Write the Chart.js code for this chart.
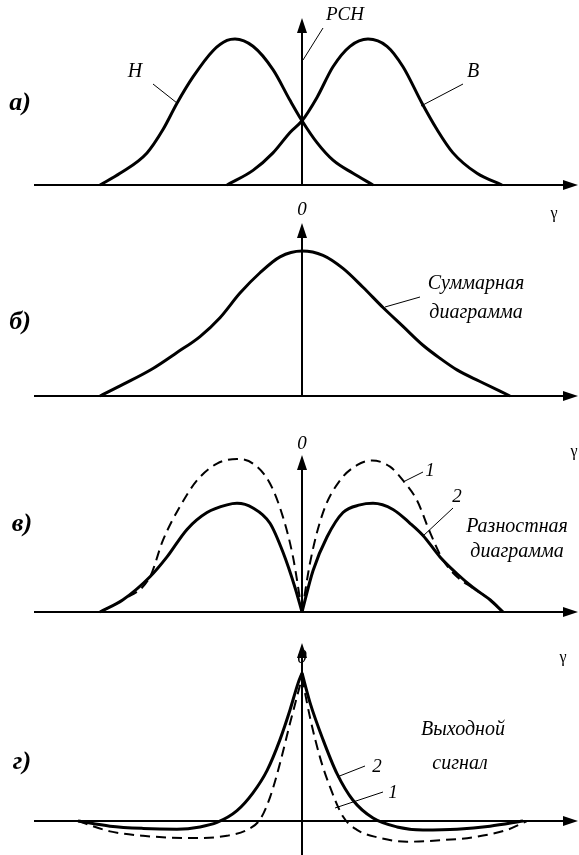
<!DOCTYPE html>
<html>
<head>
<meta charset="utf-8">
<script src="https://cdn.jsdelivr.net/npm/chart.js@4"></script>
<style>
  html, body { margin: 0; padding: 0; background: #fff; }
  #wrap { position: relative; width: 579px; height: 855px; overflow: hidden; }
  canvas { position: absolute; left: 0; top: 0; }
</style>
</head>
<body>
<div id="wrap">
  <canvas id="pa" width="579" height="855"></canvas>
  <canvas id="pb" width="579" height="855"></canvas>
  <canvas id="pv" width="579" height="855"></canvas>
  <canvas id="pg" width="579" height="855"></canvas>
</div>
<script>
// а) диаграммы Н и В
const xH = [-2.02, -1.82, -1.55, -1.39, -1.25, -1.09, -0.89, -0.75, -0.67, -0.49, -0.29, -0.12, 0, 0.15, 0.31, 0.51, 0.71];
const yH = [0, 0.08, 0.22, 0.38, 0.56, 0.74, 0.92, 0.99, 1.0, 0.95, 0.79, 0.58, 0.44, 0.29, 0.17, 0.08, 0];
const xB = [-0.75, -0.49, -0.29, -0.12, 0, 0.15, 0.31, 0.48, 0.66, 0.85, 1.01, 1.20, 1.35, 1.51, 1.75, 2.0];
const yB = [0, 0.10, 0.22, 0.36, 0.44, 0.60, 0.81, 0.95, 1.0, 0.95, 0.81, 0.56, 0.38, 0.22, 0.08, 0];

// б) суммарная
const xSum = [-2.02, -1.79, -1.49, -1.25, -1.02, -0.82, -0.62, -0.42, -0.22, 0, 0.21, 0.41, 0.61, 0.81, 1.01, 1.21, 1.38, 1.55, 1.78, 2.08];
const ySum = [0, 0.08, 0.19, 0.30, 0.41, 0.54, 0.71, 0.85, 0.96, 1.0, 0.97, 0.88, 0.75, 0.61, 0.48, 0.35, 0.26, 0.18, 0.10, 0];

// в) разностная: 1 - пунктир, 2 - сплошная
const xDiff1 = [-2.02, -1.79, -1.52, -1.39, -1.22, -1.05, -0.85, -0.65, -0.49, -0.32, -0.19, -0.09, 0,
                0.08, 0.21, 0.38, 0.55, 0.70, 0.88, 1.01, 1.15, 1.28, 1.41, 1.55, 1.70, 1.88, 2.01];
const yDiff1 = [0, 0.08, 0.23, 0.47, 0.69, 0.86, 0.97, 1.0, 0.97, 0.84, 0.62, 0.36, 0,
                0.32, 0.65, 0.86, 0.96, 0.99, 0.95, 0.86, 0.73, 0.52, 0.34, 0.23, 0.16, 0.08, 0];
const xDiff2 = [-2.02, -1.79, -1.52, -1.35, -1.15, -0.95, -0.75, -0.65, -0.49, -0.32, -0.19, -0.07, 0,
                0.11, 0.25, 0.41, 0.58, 0.71, 0.91, 1.08, 1.21, 1.38, 1.55, 1.71, 1.88, 2.01];
const yDiff2 = [0, 0.08, 0.23, 0.36, 0.54, 0.65, 0.70, 0.71, 0.68, 0.58, 0.39, 0.16, 0,
                0.27, 0.49, 0.65, 0.70, 0.71, 0.67, 0.58, 0.50, 0.36, 0.25, 0.16, 0.08, 0];

// г) выходной сигнал
const xOut1 = [-2.24, -1.92, -1.59, -1.09, -0.75, -0.55, -0.42, -0.32, -0.22, -0.12, -0.05, 0,
               0.08, 0.18, 0.28, 0.41, 0.55, 0.75, 1.05, 1.38, 1.71, 2.05, 2.25];
const yOut1 = [0, -0.07, -0.10, -0.115, -0.10, -0.06, 0.01, 0.16, 0.39, 0.66, 0.84, 0.97,
               0.70, 0.43, 0.23, 0.03, -0.06, -0.11, -0.14, -0.13, -0.11, -0.06, 0];
const xOut2 = [-2.24, -1.92, -1.59, -1.25, -1.02, -0.85, -0.65, -0.49, -0.35, -0.22, -0.12, -0.04, 0,
               0.08, 0.21, 0.35, 0.51, 0.71, 0.95, 1.21, 1.55, 1.88, 2.21];
const yOut2 = [0, -0.035, -0.05, -0.055, -0.04, -0.01, 0.07, 0.19, 0.34, 0.55, 0.75, 0.93, 1.0,
               0.80, 0.55, 0.32, 0.14, 0.02, -0.04, -0.06, -0.055, -0.035, 0];

const SERIF = '"Liberation Serif", "Times New Roman", serif';

function pts(xs, ys) {
  return xs.map((x, i) => ({ x: x, y: ys[i] }));
}
// делим кривую в нуле, чтобы сохранить излом
function half(xs, ys, side) {
  return pts(xs, ys).filter(p => side < 0 ? p.x <= 0 : p.x >= 0);
}

function arrow(ctx, x, y, dx, dy) {
  const len = 15, w = 5;
  const px = -dy, py = dx;
  ctx.beginPath();
  ctx.moveTo(x, y);
  ctx.lineTo(x - dx * len + px * w, y - dy * len + py * w);
  ctx.lineTo(x - dx * len - px * w, y - dy * len - py * w);
  ctx.closePath();
  ctx.fill();
}

const sketch = {
  id: 'sketch',
  afterDatasetsDraw(chart, args, opts) {
    const ctx = chart.ctx;
    const xs = chart.scales.x, ys = chart.scales.y;
    const area = chart.chartArea;
    const y0 = ys.getPixelForValue(0);
    const x0 = xs.getPixelForValue(0);
    ctx.save();
    ctx.strokeStyle = '#000';
    ctx.fillStyle = '#000';
    ctx.lineWidth = 2;
    // ось гамма
    ctx.beginPath();
    ctx.moveTo(area.left, y0);
    ctx.lineTo(area.right - 10, y0);
    ctx.stroke();
    arrow(ctx, area.right, y0, 1, 0);
    // вертикальная ось
    ctx.beginPath();
    ctx.moveTo(x0, opts.vBottom);
    ctx.lineTo(x0, opts.vTop + 10);
    ctx.stroke();
    arrow(ctx, x0, opts.vTop, 0, -1);
    // выноски
    ctx.lineWidth = 1;
    (opts.leaders || []).forEach(l => {
      ctx.beginPath();
      ctx.moveTo(l[0], l[1]);
      ctx.lineTo(l[2], l[3]);
      ctx.stroke();
    });
    ctx.textAlign = 'center';
    ctx.textBaseline = 'middle';
    (opts.labels || []).forEach(t => {
      ctx.font = t.font;
      ctx.fillText(t.text, t.x, t.y);
    });
    ctx.restore();
  }
};

function solid(data) {
  return { data, borderColor: '#000', borderWidth: 3, cubicInterpolationMode: 'monotone', pointRadius: 0, fill: false };
}
function dashed(data) {
  return { data, borderColor: '#000', borderWidth: 2, borderDash: [10, 6], cubicInterpolationMode: 'monotone', pointRadius: 0, fill: false };
}

function panel(id, band, datasets, sk) {
  // band: верх и низ области в пикселях, положение нуля и масштаб единицы
  const yMax = (band.base - band.top) / band.unit;
  const yMin = (band.base - band.bottom) / band.unit;
  new Chart(document.getElementById(id), {
    type: 'line',
    data: { datasets },
    options: {
      responsive: false,
      animation: false,
      layout: { padding: { left: 34, right: 1, top: band.top, bottom: 855 - band.bottom } },
      plugins: { legend: { display: false }, tooltip: { enabled: false }, sketch: sk },
      scales: {
        x: { type: 'linear', min: -2.68, max: 2.76, display: false },
        y: { type: 'linear', min: yMin, max: yMax, display: false }
      }
    },
    plugins: [sketch]
  });
}

const italic = s => 'italic ' + s + 'px ' + SERIF;

panel('pa', { top: 0, bottom: 215, base: 185, unit: 146 },
  [solid(pts(xH, yH)), solid(pts(xB, yB))],
  {
    vTop: 18, vBottom: 185,
    leaders: [[153, 84, 177, 103], [323, 28, 303, 60], [463, 84, 421, 106]],
    labels: [
      { text: 'а)', x: 20, y: 103, font: 'bold ' + italic(26) },
      { text: 'Н', x: 135, y: 72, font: italic(20) },
      { text: 'РСН', x: 345, y: 15, font: italic(19) },
      { text: 'В', x: 473, y: 72, font: italic(20) },
      { text: '0', x: 302, y: 210, font: italic(19) },
      { text: 'γ', x: 554, y: 214, font: '16px ' + SERIF }
    ]
  });

panel('pb', { top: 215, bottom: 410, base: 396, unit: 145 },
  [solid(pts(xSum, ySum))],
  {
    vTop: 223, vBottom: 396,
    leaders: [[420, 297, 385, 307]],
    labels: [
      { text: 'б)', x: 20, y: 322, font: 'bold ' + italic(26) },
      { text: 'Суммарная', x: 476, y: 284, font: italic(20) },
      { text: 'диаграмма', x: 476, y: 313, font: italic(20) }
    ]
  });

panel('pv', { top: 410, bottom: 625, base: 612, unit: 153 },
  [dashed(half(xDiff1, yDiff1, -1)), dashed(half(xDiff1, yDiff1, 1)),
   solid(half(xDiff2, yDiff2, -1)), solid(half(xDiff2, yDiff2, 1))],
  {
    vTop: 455, vBottom: 612,
    leaders: [[423, 472, 403, 482], [453, 508, 423, 536]],
    labels: [
      { text: 'в)', x: 22, y: 524, font: 'bold ' + italic(26) },
      { text: '0', x: 302, y: 444, font: italic(19) },
      { text: 'γ', x: 574, y: 452, font: '16px ' + SERIF },
      { text: '1', x: 430, y: 471, font: italic(19) },
      { text: '2', x: 457, y: 497, font: italic(19) },
      { text: 'Разностная', x: 517, y: 527, font: italic(20) },
      { text: 'диаграмма', x: 517, y: 552, font: italic(20) }
    ]
  });

panel('pg', { top: 625, bottom: 855, base: 821, unit: 148 },
  [dashed(half(xOut1, yOut1, -1)), dashed(half(xOut1, yOut1, 1)),
   solid(half(xOut2, yOut2, -1)), solid(half(xOut2, yOut2, 1))],
  {
    vTop: 643, vBottom: 855,
    leaders: [[365, 766, 337, 777], [383, 792, 335, 808]],
    labels: [
      { text: 'г)', x: 22, y: 762, font: 'bold ' + italic(26) },
      { text: '0', x: 302, y: 658, font: italic(19) },
      { text: 'γ', x: 563, y: 658, font: '16px ' + SERIF },
      { text: '2', x: 377, y: 767, font: italic(19) },
      { text: '1', x: 393, y: 793, font: italic(19) },
      { text: 'Выходной', x: 463, y: 730, font: italic(20) },
      { text: 'сигнал', x: 460, y: 764, font: italic(20) }
    ]
  });
</script>
</body>
</html>
